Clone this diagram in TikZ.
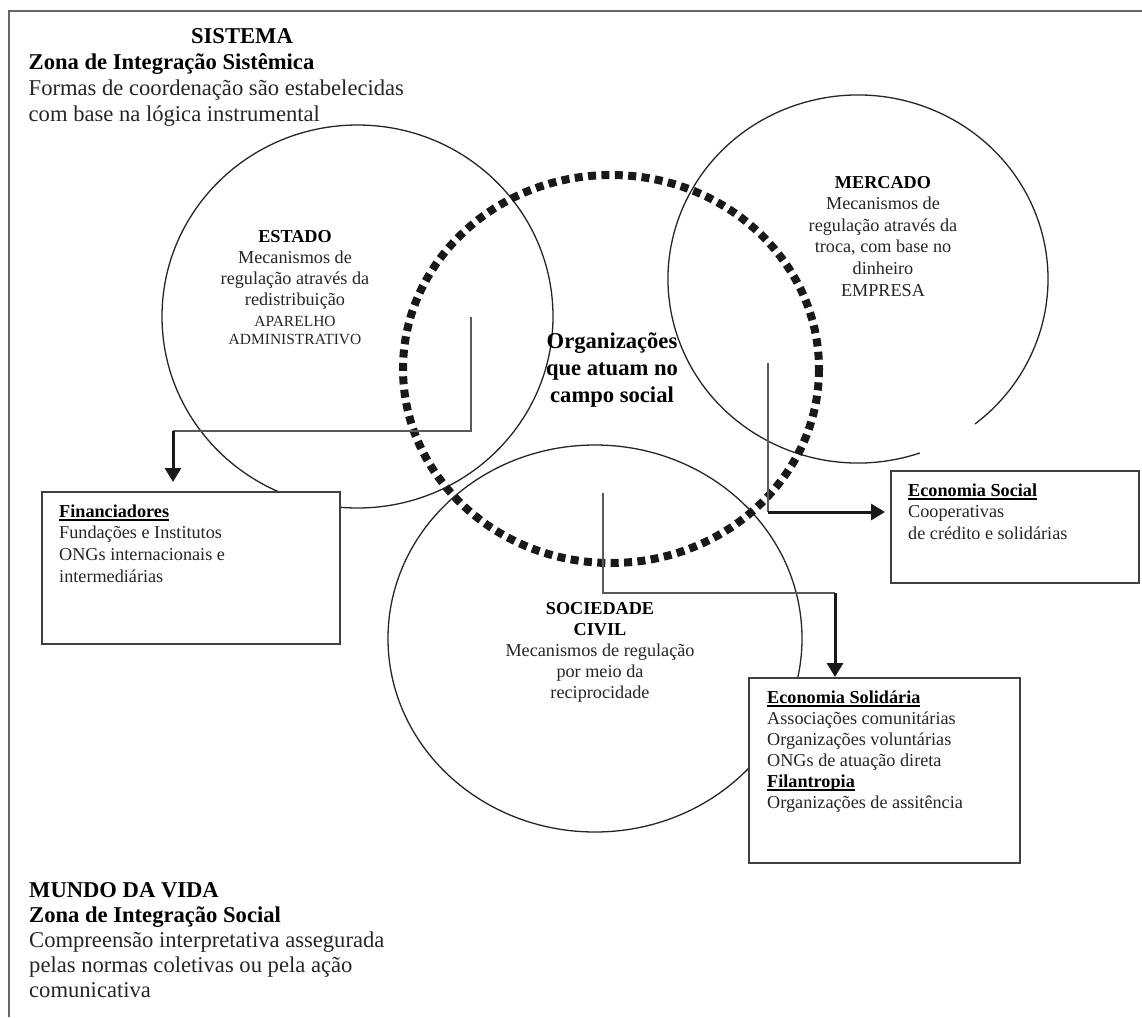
\documentclass[tikz,border=0pt]{standalone}
\usepackage{fontspec}
\setmainfont{Liberation Serif}
\usetikzlibrary{arrows.meta}
\newcommand{\hd}[1]{{\color{black}\bfseries #1}}
\newcommand{\ulbox}[1]{\setbox0=\hbox{#1}\rlap{\vrule height -2pt depth 3.6pt width \wd0}\box0}
\begin{document}
\begin{tikzpicture}[x=1pt,y=-1pt,
  ring/.style={line width=1.3pt, draw=black!85},
  dotring/.style={line width=8pt, draw=black!90, dash pattern=on 8pt off 5.4pt},
  conn/.style={line width=1.5pt, draw=black!65},
  arr/.style={line width=3pt, draw=black!90, -{Triangle[length=14pt,width=16pt]}},
  box/.style={draw=black!75, line width=1.8pt, fill=white, inner sep=0pt},
  txt/.style={inner sep=0pt, text=black!85},
  bigtxt/.style={txt, font=\fontsize{22.6}{26}\selectfont},
  midtxt/.style={txt, font=\fontsize{18.2}{21.4}\selectfont},
  smalltxt/.style={txt, font=\fontsize{15.5}{18}\selectfont},
  centertxt/.style={txt, text=black, font=\fontsize{22.6}{27}\selectfont\bfseries}
]
\useasboundingbox (0,0) rectangle (1142,1017);
\fill[white] (0,0) rectangle (1142,1017);

% frame (top and left edges)
\draw[line width=2pt, draw=black!60] (1142,11) -- (9,11) -- (9,1017);

% circles
\draw[ring] (357.5,316.5) ellipse [x radius=195.5, y radius=191.5];
\draw[ring] (858,279) ++(71:190 and 184) arc[start angle=71, end angle=412, x radius=190, y radius=184];
\draw[ring] (595,638.5) ellipse [x radius=207, y radius=193.5];
\draw[dotring] (611,369) ellipse [x radius=208, y radius=194];

% boxes
\node[box, anchor=north west, minimum width=298pt, minimum height=152pt] (fin) at (41,491) {};
\node[box, anchor=north west, minimum width=248pt, minimum height=112pt] (esoc) at (890,470) {};
\node[box, anchor=north west, minimum width=271pt, minimum height=185pt] (esol) at (748,677) {};

% connectors
\coordinate (eA) at (471,317);
\coordinate (eB) at (173,431);
\draw[conn] (eA) |- (eB);
\draw[arr, shorten >=9pt] (eB) -- (eB |- fin.north);

\coordinate (mA) at (768,363);
\coordinate (mB) at (768,512);
\draw[conn] (mA) -- (mB);
\draw[arr, shorten >=5pt] (mB) -- (mB -| esoc.west);

\coordinate (sA) at (603,493);
\coordinate (sB) at (835,593);
\draw[conn] (sA) |- (sB);
\draw[arr] (sB) -- (sB |- esol.north);

% texts (anchor=base refers to the last line's baseline)
\node[bigtxt, text=black, font=\fontsize{22.6}{26}\selectfont\bfseries, anchor=base] (sis) at (242,43) {SISTEMA};
\node[bigtxt, anchor=base west, align=left] (sistxt) at (28.5,121) {\hd{Zona de Integração Sistêmica}\\ Formas de coordenação são estabelecidas\\ com base na lógica instrumental};

\node[bigtxt, anchor=base west, align=left, font=\fontsize{22.6}{25}\selectfont] (mundo) at (29,997) {\hd{MUNDO DA VIDA}\\ \hd{Zona de Integração Social}\\ Compreensão interpretativa assegurada\\ pelas normas coletivas ou pela ação\\ comunicativa};

\node[midtxt, anchor=base, align=center, font=\fontsize{18.2}{21}\selectfont] (estado) at (295,305) {\hd{ESTADO}\\ Mecanismos de\\ regulação através da\\ redistribuição};
\node[smalltxt, anchor=base, align=center] (aparelho) at (295,344) {APARELHO\\ ADMINISTRATIVO};

\node[midtxt, anchor=base, align=center, font=\fontsize{18.2}{21.6}\selectfont] (mercado) at (883,296) {\hd{MERCADO}\\ Mecanismos de\\ regulação através da\\ troca, com base no\\ dinheiro\\ EMPRESA};

\node[centertxt, anchor=base, align=center] (org) at (612,402) {Organizações\\ que atuam no\\ campo social};

\node[midtxt, anchor=base, align=center, font=\fontsize{18.2}{21}\selectfont] (soc) at (600,698) {\hd{SOCIEDADE}\\ \hd{CIVIL}\\ Mecanismos de regulação\\ por meio da\\ reciprocidade};

\node[midtxt, anchor=base west, align=left, font=\fontsize{18.2}{21.6}\selectfont] (fintxt) at (59,582) {\hd{\ulbox{Financiadores}}\\ Fundações e Institutos\\ ONGs internacionais e\\ intermediárias};

\node[midtxt, anchor=base west, align=left, font=\fontsize{18.2}{21.5}\selectfont] (esoctxt) at (908,539) {\hd{\ulbox{Economia Social}}\\ Cooperativas\\ de crédito e solidárias};

\node[midtxt, anchor=base west, align=left, font=\fontsize{18.2}{21}\selectfont] (esoltxt) at (767,808) {\hd{\ulbox{Economia Solidária}}\\ Associações comunitárias\\ Organizações voluntárias\\ ONGs de atuação direta\\ \hd{\ulbox{Filantropia}}\\ Organizações de assitência};
\end{tikzpicture}
\end{document}
